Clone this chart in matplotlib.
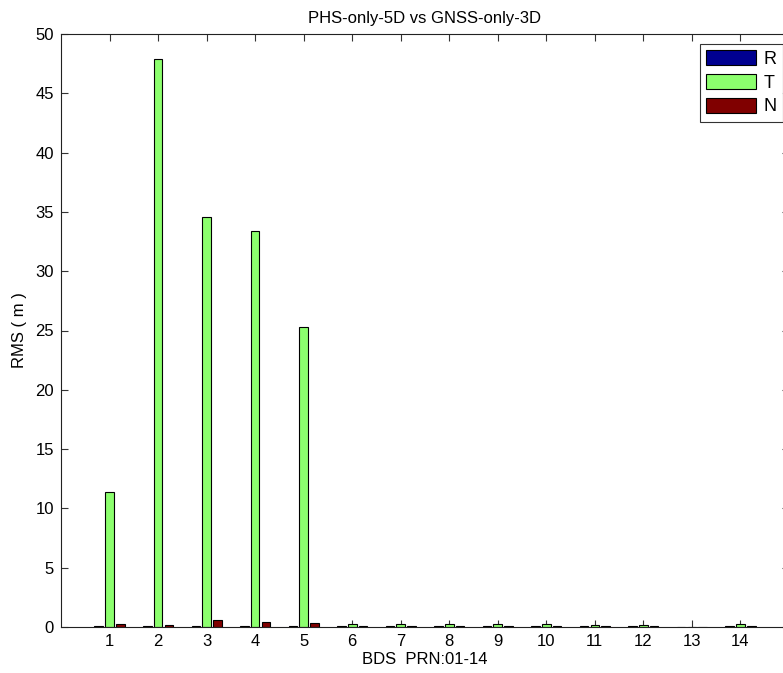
import matplotlib
matplotlib.use("Agg")
import matplotlib.pyplot as plt
import numpy as np

plt.rcParams['font.family'] = ['Liberation Sans', 'DejaVu Sans']

prn = list(range(1, 15))
series_names = ['R', 'T', 'N']
R_vals = [0.05, 0.05, 0.05, 0.05, 0.05, 0.07, 0.07, 0.07, 0.07, 0.07, 0.06, 0.06, 0.0, 0.06]
T_vals = [11.4, 47.9, 34.6, 33.4, 25.3, 0.25, 0.25, 0.25, 0.25, 0.25, 0.13, 0.13, 0.0, 0.22]
N_vals = [0.28, 0.2, 0.56, 0.4, 0.34, 0.12, 0.12, 0.12, 0.12, 0.12, 0.08, 0.08, 0.0, 0.08]
colors = ['#000090', '#8CFF6E', '#800000']
title = 'PHS-only-5D vs GNSS-only-3D'
xlabel = 'BDS  PRN:01-14'
ylabel = 'RMS ( m )'

W, H = 783, 673
fig = plt.figure(figsize=(W / 100, H / 100), dpi=100)
ax = fig.add_axes([61 / W, (H - 627) / H, 728 / W, 593 / H])

x = np.array(prn)
step = 0.222
width = 0.178
for i, (vals, c, name) in enumerate(zip([R_vals, T_vals, N_vals], colors, series_names)):
    ax.bar(x + (i - 1) * step, vals, width=width, color=c, edgecolor='black',
           linewidth=0.8, label=name, zorder=2)

ax.set_xlim(0, 15)
ax.set_ylim(0, 50)
ax.set_xticks(prn)
ax.set_yticks(np.arange(0, 51, 5))
ax.tick_params(direction='in', length=5, width=0.8, top=True, right=True,
               labelsize=12, color='#333333', pad=5)
for sp in ax.spines.values():
    sp.set_linewidth(0.8)
    sp.set_color('#222222')

ax.set_title(title, fontsize=12, pad=8)
ax.set_xlabel(xlabel, fontsize=12, labelpad=2)
ax.set_ylabel(ylabel, fontsize=12, labelpad=6)

leg = ax.legend(loc='upper left', bbox_to_anchor=((700 - 61) / 728, (627 - 44) / 593),
                fontsize=13, frameon=True, fancybox=False, edgecolor='black',
                handlelength=2.77, handleheight=0.88, labelspacing=0.34,
                borderpad=0.35, handletextpad=0.4, borderaxespad=0)
leg.get_frame().set_linewidth(0.8)

fig.savefig('out.png', dpi=100)
